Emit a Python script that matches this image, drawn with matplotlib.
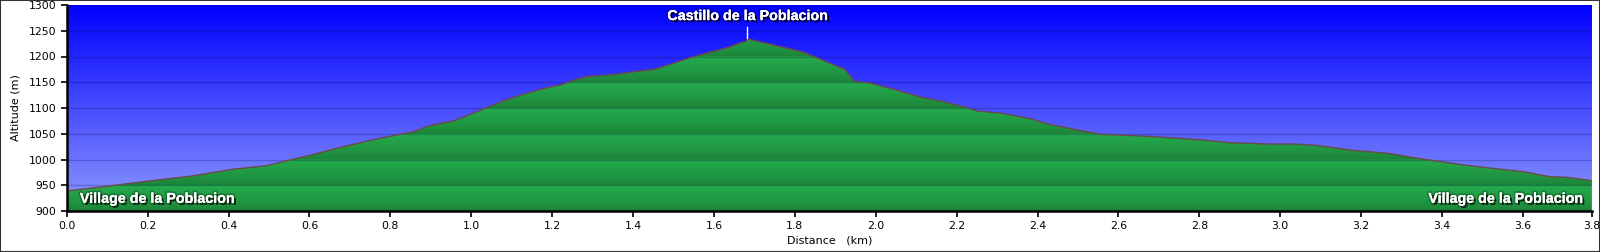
import numpy as np
import matplotlib.pyplot as plt
import matplotlib.patheffects as pe
from matplotlib.colors import LinearSegmentedColormap

# profile (km, m)
distance = [0.0, 0.09, 0.19, 0.31, 0.41, 0.495, 0.53, 0.60, 0.685, 0.767,
            0.858, 0.89, 0.924, 0.957, 1.006, 1.073, 1.13, 1.18, 1.221, 1.262,
            1.287, 1.353, 1.419, 1.452, 1.485, 1.543, 1.584, 1.634, 1.667, 1.679,
            1.683, 1.70, 1.749, 1.823, 1.856, 1.914, 1.922, 1.935, 1.947, 1.988,
            2.046, 2.112, 2.17, 2.228, 2.252, 2.31, 2.384, 2.426, 2.50, 2.558,
            2.648, 2.731, 2.805, 2.871, 2.97, 3.036, 3.094, 3.176, 3.267, 3.342,
            3.457, 3.523, 3.605, 3.663, 3.713, 3.77]
altitude = [939, 947, 957, 968, 981, 988, 995, 1008, 1025, 1040,
            1054, 1064, 1070, 1075, 1090, 1112, 1127, 1138, 1145, 1156,
            1161, 1165, 1172, 1175, 1183, 1198, 1207, 1217, 1227, 1229,
            1234, 1231, 1222, 1208, 1197, 1178, 1176, 1164, 1152, 1148,
            1136, 1121, 1112, 1100, 1094, 1090, 1079, 1069, 1057, 1049,
            1046, 1042, 1038, 1033, 1030, 1030, 1027, 1018, 1012, 1002,
            989, 983, 976, 967, 965, 959]

waypoints = ["Village de la Poblacion", "Castillo de la Poblacion", "Village de la Poblacion"]
waypoint_km = [0.0, 1.683, 3.77]

y_min, y_max, y_step = 900, 1300, 50
x_ticks = [0.0, 0.2, 0.4, 0.6, 0.8, 1.0, 1.2, 1.4, 1.6, 1.8, 2.0,
           2.2, 2.4, 2.6, 2.8, 3.0, 3.2, 3.4, 3.6]

total_km = distance[-1]

fig = plt.figure(figsize=(16, 2.52), dpi=100)
ax = fig.add_axes([66.7 / 1600, 1 - 211 / 252, (1591.7 - 66.7) / 1600, 206 / 252])

# sky gradient, deep blue at the top
sky = LinearSegmentedColormap.from_list("sky", ["#0000ff", "#8e9afd"])
ax.imshow(np.linspace(0, 1, 256).reshape(-1, 1), cmap=sky, aspect="auto",
          extent=[0, total_km, y_min, y_max], origin="upper", zorder=0)

# banded green fill clipped to the profile
alts = np.linspace(y_max, y_min, 800)
frac = ((alts - y_min) % y_step) / y_step
light = np.array([36, 172, 77]) / 255
dark = np.array([28, 130, 56]) / 255
rows = dark + (light - dark) * frac[:, None] ** 0.8
green = np.repeat(rows[:, None, :], 2, axis=1)
poly = ax.fill_between(distance, altitude, y_min, color="none", lw=0)
img = ax.imshow(green, aspect="auto", extent=[0, total_km, y_min, y_max],
                origin="upper", zorder=1)
img.set_clip_path(poly.get_paths()[0], transform=ax.transData)
ax.plot(distance, altitude, color="#6b4a4a", lw=1.0, zorder=3)

for a in range(y_min + y_step, y_max, y_step):
    ax.axhline(a, color="#000040", lw=1.0, alpha=0.22, zorder=2)

ax.set_xlim(0, total_km)
ax.set_ylim(y_min, y_max)
ax.set_yticks(range(y_min, y_max + 1, y_step))
ticks = x_ticks + [total_km]
ax.set_xticks(ticks)
ax.set_xticklabels([f"{t:.1f}" for t in ticks])
ax.tick_params(labelsize=7.8, length=4, width=1.2, direction="out", colors="black")
for side in ["top", "right"]:
    ax.spines[side].set_visible(False)
for side in ["left", "bottom"]:
    ax.spines[side].set_linewidth(1.8)
    ax.spines[side].set_zorder(5)

ax.set_xlabel("Distance   (km)", fontsize=8, labelpad=3)
ax.set_ylabel("Altitude (m)", fontsize=8, labelpad=6)

shadow = [pe.SimplePatchShadow(offset=(1.5, -1.5), shadow_rgbFace="black", alpha=0.7),
          pe.withStroke(linewidth=2.5, foreground=(0, 0, 0, 0.25)), pe.Normal()]
font = dict(family="Liberation Sans", weight="bold", fontsize=10.3, color="white", zorder=6)

ax.annotate(waypoints[0], xy=(waypoint_km[0], y_min), xytext=(9.5, 8.8),
            textcoords="offset points", ha="left", va="center", path_effects=shadow, **font)
ax.annotate(waypoints[2], xy=(waypoint_km[2], y_min), xytext=(-6.3, 8.8),
            textcoords="offset points", ha="right", va="center", path_effects=shadow, **font)

peak_alt = altitude[distance.index(waypoint_km[1])]
ax.plot([waypoint_km[1], waypoint_km[1]], [peak_alt + 2, peak_alt + 23],
        color="white", lw=1.0, zorder=6)
ax.annotate(waypoints[1], xy=(waypoint_km[1], peak_alt), xytext=(0, 16.5),
            textcoords="offset points", ha="center", va="center", path_effects=shadow, **font)

fig.patches.append(plt.Rectangle((0, 0), 1, 1, transform=fig.transFigure, fill=False,
                                 edgecolor="#333333", lw=1.5))

fig.savefig("out.png", dpi=100)
